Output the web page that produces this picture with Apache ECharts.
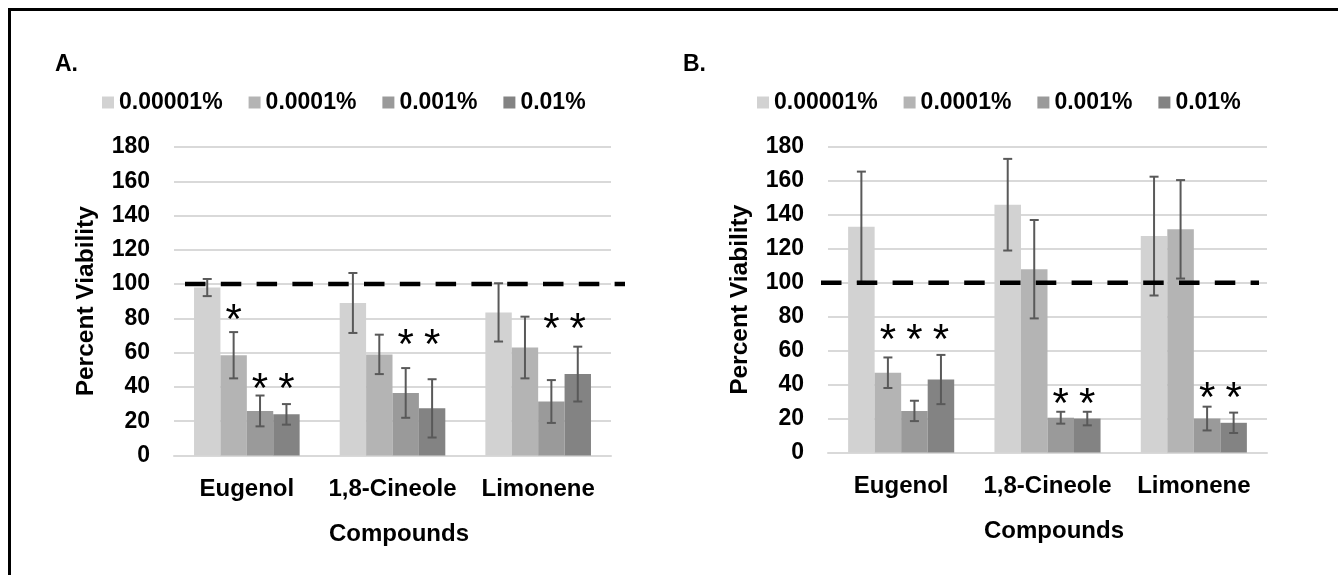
<!DOCTYPE html>
<html>
<head>
<meta charset="utf-8">
<script src="https://cdn.jsdelivr.net/npm/echarts@6/dist/echarts.min.js"></script>
<style>
  html, body { margin: 0; padding: 0; background: #fff; }
  #main { width: 1338px; height: 575px; }
</style>
</head>
<body>
<div id="main"></div>
<script>
  // 化合物 / 浓度
  var compounds = ['Eugenol', '1,8-Cineole', 'Limonene'];
  var concentrations = ['0.00001%', '0.0001%', '0.001%', '0.01%'];
  var yMin = 0, yMax = 180, yStep = 20;
  var controlLevel = 100;

  // panel A: mean percent viability per concentration (Eugenol, 1,8-Cineole, Limonene)
  var meanA1 = [98, 89, 83.5];
  var meanA2 = [58.5, 59, 63];
  var meanA3 = [26, 36.5, 31.5];
  var meanA4 = [24, 27.5, 47.5];
  var errA1 = [5, 17.5, 17];
  var errA2 = [13.5, 11.5, 18];
  var errA3 = [9, 14.5, 12.5];
  var errA4 = [6, 17, 16];
  // significance marks: [compound, concentration, height]
  var starsA = [[0, 1, 83.7], [0, 2, 43.8], [0, 3, 43.8], [1, 2, 69.5], [1, 3, 69.5], [2, 2, 78.5], [2, 3, 78.5]];

  // panel B
  var meanB1 = [133, 146, 127.5];
  var meanB2 = [47, 108, 131.5];
  var meanB3 = [24.5, 20.5, 20];
  var meanB4 = [43, 20, 17.5];
  var errB1 = [32.5, 27, 35];
  var errB2 = [9, 29, 29];
  var errB3 = [6, 3.5, 7];
  var errB4 = [14.5, 4, 6];
  var starsB = [[0, 1, 71], [0, 2, 71], [0, 3, 71], [1, 2, 33.2], [1, 3, 33.2], [2, 2, 36.8], [2, 3, 36.8]];

  var colors = ['#d2d2d2', '#b4b4b4', '#9a9a9a', '#838383'];
  var FONT = "'Liberation Sans', Arial, sans-serif";
  var CAT_GAP = 0.275;

  function errData(means, errs) {
    var out = [];
    means.forEach(function (m, s) {
      m.forEach(function (v, c) {
        out.push([c, v - errs[s][c], v + errs[s][c], s]);
      });
    });
    return out;
  }

  function barOffset(api, s) {
    var band = api.size([1, 0])[0];
    var w = band * (1 - CAT_GAP) / 4;
    return (s - 1.5) * w;
  }

  function renderErr(params, api) {
    var c = api.value(0), dx = barOffset(api, api.value(3));
    var hi = api.coord([c, api.value(2)]);
    var lo = api.coord([c, api.value(1)]);
    var x = hi[0] + dx, cap = 4.5;
    var st = { stroke: '#595959', lineWidth: 2 };
    return {
      type: 'group',
      children: [
        { type: 'line', shape: { x1: x, y1: hi[1], x2: x, y2: lo[1] }, style: st },
        { type: 'line', shape: { x1: x - cap, y1: hi[1], x2: x + cap, y2: hi[1] }, style: st },
        { type: 'line', shape: { x1: x - cap, y1: lo[1], x2: x + cap, y2: lo[1] }, style: st }
      ]
    };
  }

  function renderStar(params, api) {
    var p = api.coord([api.value(0), api.value(2)]);
    var fs = 42;
    return {
      type: 'text',
      x: p[0] + barOffset(api, api.value(1)),
      y: p[1] + fs * 0.23,
      style: { text: '*', fill: '#000', font: fs + 'px ' + FONT, align: 'center', verticalAlign: 'middle' }
    };
  }

  var grids = [
    { left: 174, top: 147, width: 437, height: 308.5 },
    { left: 828, top: 147, width: 439, height: 305.5 },
    // reference line spans (dashed 100% line)
    { left: 185, top: 147, width: 440, height: 308.5 },
    { left: 821, top: 147, width: 438, height: 305.5 }
  ];

  function bold(size) {
    return { color: '#000', fontWeight: 'bold', fontSize: size, fontFamily: FONT };
  }

  var xAxes = [], yAxes = [], series = [];
  [0, 1].forEach(function (g) {
    xAxes.push({
      type: 'category', gridIndex: g, data: compounds,
      axisTick: { show: false },
      axisLine: { lineStyle: { color: '#d9d9d9', width: 2 } },
      axisLabel: Object.assign({ margin: 22, interval: 0 }, bold(24)),
      name: 'Compounds', nameLocation: 'middle', nameGap: 67,
      nameTextStyle: Object.assign({ padding: [0, 0, 0, 13] }, bold(24))
    });
    yAxes.push({
      type: 'value', gridIndex: g, min: yMin, max: yMax, interval: yStep,
      axisLine: { show: false }, axisTick: { show: false },
      splitLine: { lineStyle: { color: '#d9d9d9', width: 2 } },
      axisLabel: Object.assign({ margin: 24 }, bold(23)),
      name: 'Percent Viability', nameLocation: 'middle', nameRotate: 90, nameGap: 75,
      nameTextStyle: bold(24.5)
    });
  });
  [2, 3].forEach(function (g) {
    xAxes.push({ type: 'value', gridIndex: g, min: 0, max: 1, show: false });
    yAxes.push({ type: 'value', gridIndex: g, min: yMin, max: yMax, show: false });
  });

  var panels = [
    { means: [meanA1, meanA2, meanA3, meanA4], errs: [errA1, errA2, errA3, errA4], stars: starsA },
    { means: [meanB1, meanB2, meanB3, meanB4], errs: [errB1, errB2, errB3, errB4], stars: starsB }
  ];

  panels.forEach(function (p, g) {
    p.means.forEach(function (m, s) {
      series.push({
        type: 'bar', name: concentrations[s], xAxisIndex: g, yAxisIndex: g,
        data: m, barGap: '0%', barCategoryGap: (CAT_GAP * 100) + '%',
        itemStyle: { color: colors[s] }, silent: true
      });
    });
    series.push({
      type: 'custom', xAxisIndex: g, yAxisIndex: g, z: 4, silent: true,
      renderItem: renderErr, encode: { x: 0, y: [1, 2] },
      data: errData(p.means, p.errs)
    });
    series.push({
      type: 'custom', xAxisIndex: g, yAxisIndex: g, z: 6, silent: true,
      renderItem: renderStar, encode: { x: 0, y: 2 },
      data: p.stars
    });
    series.push({
      type: 'line', xAxisIndex: g + 2, yAxisIndex: g + 2, z: 8, silent: true,
      symbol: 'none', clip: false,
      lineStyle: { color: '#000', width: 4.5, type: [20.5, 15.3] },
      data: [[0, controlLevel], [1, controlLevel]]
    });
  });

  var legendBase = {
    top: 91, itemWidth: 12, itemHeight: 12, itemGap: 26, icon: 'rect', padding: 0,
    textStyle: bold(23), data: concentrations, selectedMode: false
  };

  var myChart = echarts.init(document.getElementById('main'));
  myChart.setOption({
    animation: false,
    backgroundColor: '#fff',
    title: [
      { text: 'A.', left: 55, top: 53, padding: 0, textStyle: bold(23) },
      { text: 'B.', left: 683, top: 53, padding: 0, textStyle: bold(23) }
    ],
    legend: [
      Object.assign({ left: 102 }, legendBase),
      Object.assign({ left: 757 }, legendBase)
    ],
    graphic: [{
      type: 'rect', silent: true,
      shape: { x: 9.5, y: 9.5, width: 1400, height: 700 },
      style: { fill: 'none', stroke: '#000', lineWidth: 3 }
    }],
    grid: grids,
    xAxis: xAxes,
    yAxis: yAxes,
    series: series
  });
</script>
</body>
</html>
